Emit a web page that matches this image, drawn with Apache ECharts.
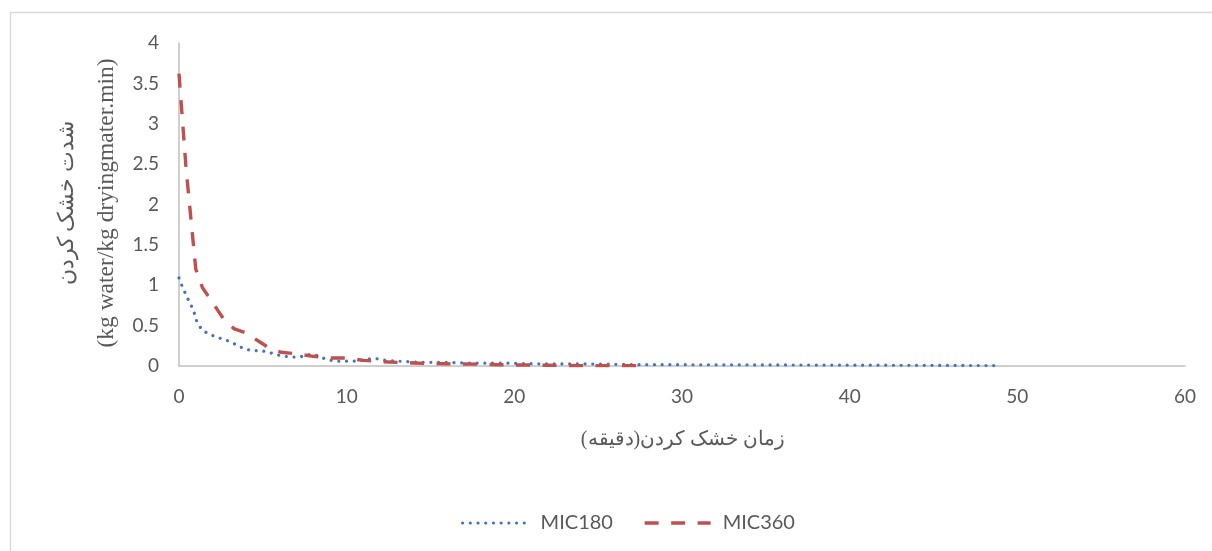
<!DOCTYPE html>
<html>
<head>
<meta charset="utf-8">
<script src="https://cdn.jsdelivr.net/npm/echarts@6/dist/echarts.min.js"></script>
<style>
html,body{margin:0;padding:0;background:#fff;}
#c{width:1212px;height:551px;}
</style>
</head>
<body>
<div id="c"></div>
<script>
// Data
var seriesNames = ['MIC180', 'MIC360'];
var mic180X = [0, 0.2, 0.4, 0.6, 0.85, 1.05, 1.35, 1.75, 2.2, 2.65, 3.1, 3.5, 3.95, 4.4, 4.9, 5.35, 5.8, 6.3, 6.75, 7.2, 7.65, 8.1, 8.55, 9, 9.5, 10, 10.4, 10.9, 11.3, 11.8, 12.3, 13.5, 14.4, 16, 17.5, 19.5, 21.5, 24.5, 27.5, 30, 34, 38, 42, 45, 48.8];
var mic180Y = [1.09, 0.98, 0.89, 0.8, 0.7, 0.56, 0.45, 0.40, 0.36, 0.33, 0.30, 0.25, 0.21, 0.19, 0.19, 0.17, 0.14, 0.12, 0.11, 0.11, 0.14, 0.14, 0.10, 0.07, 0.06, 0.06, 0.06, 0.07, 0.09, 0.09, 0.07, 0.055, 0.045, 0.045, 0.035, 0.035, 0.027, 0.025, 0.017, 0.016, 0.014, 0.012, 0.01, 0.008, 0.005];
var mic360X = [0, 0.42, 1.0, 1.4, 2.7, 3.3, 4.0, 4.8, 5.4, 6.1, 7, 8, 9, 10, 11, 12, 13, 14, 15, 16, 17, 18, 19, 20, 21, 22, 23, 24, 25, 26, 27, 27.7];
var mic360Y = [3.62, 2.45, 1.2, 0.97, 0.57, 0.46, 0.41, 0.30, 0.22, 0.17, 0.15, 0.12, 0.10, 0.10, 0.07, 0.055, 0.045, 0.038, 0.03, 0.027, 0.025, 0.022, 0.016, 0.013, 0.012, 0.009, 0.007, 0.005, 0.005, 0.005, 0.005, 0.005];
var xTicks = [0, 10, 20, 30, 40, 50, 60];
var yTicks = [0, 0.5, 1, 1.5, 2, 2.5, 3, 3.5, 4];
var xTitle = 'زمان خشک کردن(دقیقه)';
var yTitle1 = 'شدت خشک کردن';
var yTitle2 = '(kg water/kg dryingmater.min)';

function pairs(xs, ys) { return xs.map(function (x, i) { return [x, ys[i]]; }); }

var tickFont = 'Lato, "Open Sans", sans-serif';
var serifFont = '"Times New Roman", "Liberation Serif", "DejaVu Serif", serif';

var blueStyle = { color: '#4472C4', width: 3.2, type: [0.01, 7.7], cap: 'round', join: 'round' };
var redStyle = { color: '#C0504D', width: 3.4, type: [14, 12.5], cap: 'butt', join: 'round' };

var chart = echarts.init(document.getElementById('c'));
chart.setOption({
  backgroundColor: '#fff',
  animation: false,
  grid: { left: 179, right: 27, top: 43, bottom: 185, containLabel: false },
  graphic: [
    { type: 'rect', shape: { x: 10.5, y: 12.5, width: 1210, height: 560 }, style: { fill: 'none', stroke: '#D9D9D9', lineWidth: 1.5 }, silent: true, z: -1 },
    { type: 'text', x: 87, y: 203, rotation: Math.PI / 2,
      style: { text: '{a|' + yTitle1 + '}\n{b|' + yTitle2 + '}', align: 'center', verticalAlign: 'middle', fill: '#595959',
        rich: {
          a: { fontFamily: serifFont, fontSize: 21.5, lineHeight: 40, fill: '#595959', align: 'center' },
          b: { fontFamily: serifFont, fontSize: 23.5, lineHeight: 40, fill: '#595959', align: 'center' }
        } } },
    { type: 'text', x: 683, y: 440,
      style: { text: xTitle, align: 'center', verticalAlign: 'middle', font: '20px ' + serifFont, fill: '#595959' } }
  ],
  legend: {
    top: 508, left: 456, itemWidth: 66, itemHeight: 14, itemGap: 30,
    textStyle: { fontFamily: tickFont, fontSize: 20, color: '#595959', padding: [0, 0, 0, 7] },
    data: [
      { name: seriesNames[0], lineStyle: blueStyle, itemStyle: { opacity: 0 } },
      { name: seriesNames[1], lineStyle: redStyle, itemStyle: { opacity: 0 } }
    ]
  },
  xAxis: {
    type: 'value', min: 0, max: 60, interval: 10,
    axisLine: { show: true, lineStyle: { color: '#BFBFBF', width: 1.5 } },
    axisTick: { show: false },
    splitLine: { show: false },
    axisLabel: { fontFamily: tickFont, fontSize: 19, color: '#595959', margin: 21,
      formatter: function (v) { return xTicks.indexOf(v) >= 0 ? String(v) : ''; } }
  },
  yAxis: {
    type: 'value', min: 0, max: 4, interval: 0.5,
    axisLine: { show: true, lineStyle: { color: '#BFBFBF', width: 1.5 } },
    axisTick: { show: false },
    splitLine: { show: false },
    axisLabel: { fontFamily: tickFont, fontSize: 19, color: '#595959', margin: 20,
      formatter: function (v) { return yTicks.indexOf(v) >= 0 ? String(v) : ''; } }
  },
  series: [
    {
      name: seriesNames[0], type: 'line', data: pairs(mic180X, mic180Y),
      showSymbol: false, symbol: 'none', smooth: false, z: 2,
      itemStyle: { color: '#4472C4' },
      lineStyle: blueStyle
    },
    {
      name: seriesNames[1], type: 'line', data: pairs(mic360X, mic360Y),
      showSymbol: false, symbol: 'none', smooth: false, z: 3,
      itemStyle: { color: '#C0504D' },
      lineStyle: redStyle
    }
  ]
});
</script>
</body>
</html>
